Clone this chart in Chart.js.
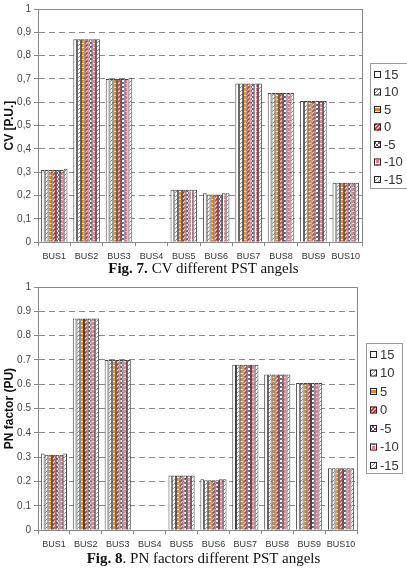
<!DOCTYPE html>
<html>
<head>
<meta charset="utf-8">
<script src="https://cdn.jsdelivr.net/npm/chart.js@4"></script>
<style>
  body { margin: 0; background: #fff; width: 407px; height: 569px; position: relative; overflow: hidden; }
  .box { position: absolute; left: 0; width: 407px; }
  .cap { position: absolute; left: 0; width: 407px; text-align: center; font-family: "Liberation Serif", "Times New Roman", serif; color: #111; white-space: nowrap; }
</style>
</head>
<body>
<div class="box" style="top:0;height:267px"><canvas id="cv"></canvas></div>
<div class="cap" style="top:260px;font-size:15px"><b>Fig. 7.</b> CV different PST angels</div>
<div class="box" style="top:278px;height:277px"><canvas id="pn"></canvas></div>
<div class="cap" style="top:550px;font-size:15px"><b>Fig. 8</b>. PN factors different PST angels</div>
<script>
const buses = ['BUS1', 'BUS2', 'BUS3', 'BUS4', 'BUS5', 'BUS6', 'BUS7', 'BUS8', 'BUS9', 'BUS10']
const angles = ['15', '10', '5', '0', '-5', '-10', '-15']
const yTicks = [0, 0.1, 0.2, 0.3, 0.4, 0.5, 0.6, 0.7, 0.8, 0.9, 1]

// CV per PST angle
const cv15 = [0.31, 0.87, 0.70, 0, 0.225, 0.21, 0.68, 0.64, 0.605, 0.255]
const cv10 = [0.31, 0.87, 0.70, 0, 0.225, 0.205, 0.68, 0.64, 0.605, 0.255]
const cv5 = [0.31, 0.87, 0.70, 0, 0.225, 0.205, 0.68, 0.64, 0.605, 0.255]
const cv0 = [0.31, 0.87, 0.70, 0, 0.225, 0.205, 0.68, 0.64, 0.605, 0.255]
const cvm5 = [0.31, 0.87, 0.70, 0, 0.225, 0.205, 0.68, 0.64, 0.605, 0.255]
const cvm10 = [0.31, 0.87, 0.70, 0, 0.225, 0.21, 0.68, 0.64, 0.605, 0.255]
const cvm15 = [0.315, 0.87, 0.705, 0, 0.225, 0.21, 0.68, 0.64, 0.605, 0.255]

// PN factor per PST angle
const pn15 = [0.315, 0.87, 0.70, 0, 0.225, 0.21, 0.68, 0.64, 0.605, 0.255]
const pn10 = [0.31, 0.87, 0.70, 0, 0.225, 0.205, 0.68, 0.64, 0.605, 0.255]
const pn5 = [0.31, 0.87, 0.70, 0, 0.225, 0.205, 0.68, 0.64, 0.605, 0.255]
const pn0 = [0.31, 0.87, 0.70, 0, 0.225, 0.205, 0.68, 0.64, 0.605, 0.255]
const pnm5 = [0.31, 0.87, 0.70, 0, 0.225, 0.205, 0.68, 0.64, 0.605, 0.255]
const pnm10 = [0.31, 0.87, 0.70, 0, 0.225, 0.21, 0.68, 0.64, 0.605, 0.255]
const pnm15 = [0.315, 0.87, 0.70, 0, 0.225, 0.21, 0.68, 0.64, 0.605, 0.255]

// small hatch tiles, one per angle
function tile(draw) {
  const c = document.createElement('canvas')
  c.width = 4; c.height = 4
  const g = c.getContext('2d')
  g.fillStyle = '#fff'
  g.fillRect(0, 0, 4, 4)
  draw(g)
  return c.getContext('2d').createPattern(c, 'repeat')
}
function diag(color, w) {
  return g => {
    g.strokeStyle = color; g.lineWidth = w
    g.beginPath(); g.moveTo(0, 4); g.lineTo(4, 0); g.moveTo(-1, 1); g.lineTo(1, -1); g.moveTo(3, 5); g.lineTo(5, 3); g.stroke()
  }
}
const fills = [
  '#ffffff',
  tile(diag('#b06aa8', 1)),
  tile(g => { g.fillStyle = '#e8861c'; g.fillRect(0, 0, 4, 3) }),
  tile(diag('#e01818', 1.6)),
  tile(g => { g.fillStyle = '#7a4a78'; g.fillRect(0, 0, 2, 2); g.fillRect(2, 2, 2, 2) }),
  tile(g => { g.fillStyle = '#e8798a'; g.fillRect(0, 0, 3, 3) }),
  tile(diag('#6f8fd0', 1))
]

const frame = {
  id: 'frame',
  afterDraw(chart, args, opts) {
    const { ctx, chartArea: a } = chart
    ctx.save()
    ctx.strokeStyle = '#888'
    ctx.lineWidth = 1
    ctx.strokeRect(Math.round(a.left) + 0.5, Math.round(a.top) + 0.5, Math.round(a.right - a.left), Math.round(a.bottom - a.top))
    // legend box
    const L = opts.legend
    ctx.fillStyle = '#fff'
    ctx.fillRect(L.x, L.y, L.w, L.h)
    ctx.strokeStyle = '#999'
    ctx.strokeRect(L.x + 0.5, L.y + 0.5, L.w, L.h)
    ctx.font = '13px Arial, "Liberation Sans"'
    ctx.textBaseline = 'middle'
    chart.data.datasets.forEach((ds, i) => {
      const y = L.first + i * L.step
      ctx.fillStyle = ds.backgroundColor
      ctx.fillRect(L.x + 4, y - 3, 7, 7)
      ctx.strokeStyle = '#222'
      ctx.strokeRect(L.x + 4.5, y - 2.5, 6, 6)
      ctx.fillStyle = '#333'
      ctx.fillText(ds.label, L.x + 14, y + 1)
    })
    ctx.restore()
  }
}

function makeChart(id, series, title, fmt, rightPad, legend, top) {
  return new Chart(document.getElementById(id), {
    type: 'bar',
    data: {
      labels: buses,
      datasets: series.map((s, i) => ({
        label: angles[i],
        data: s,
        backgroundColor: fills[i],
        borderColor: '#444',
        borderWidth: 1,
        barPercentage: 1,
        categoryPercentage: 0.82
      }))
    },
    options: {
      responsive: true,
      maintainAspectRatio: false,
      animation: false,
      layout: { padding: { top: top, right: rightPad, left: 0, bottom: 0 } },
      plugins: { legend: { display: false }, tooltip: { enabled: false }, frame: { legend: legend } },
      scales: {
        x: {
          grid: { offset: true, drawOnChartArea: false, tickLength: 4, color: '#888' },
          border: { color: '#888' },
          ticks: { font: { family: 'Arial', size: 9 }, color: '#333', padding: 5, maxRotation: 0, autoSkip: false }
        },
        y: {
          min: 0, max: 1,
          afterBuildTicks: s => { s.ticks = yTicks.map(v => ({ value: v })) },
          afterFit: s => { s.width = 38 },
          ticks: { font: { family: 'Arial', size: 10 }, color: '#444', padding: 3, callback: fmt },
          grid: { color: c => (c.tick.value === 0 || c.tick.value === 1) ? 'rgba(0,0,0,0)' : '#8a8a8a', tickColor: '#888', tickLength: 4 },
          border: { color: '#888', dash: [6, 4] },
          title: { display: true, text: title, font: { family: 'Arial', size: 12, weight: 'bold' }, color: '#111', padding: 2 }
        }
      }
    },
    plugins: [frame]
  })
}

const comma = v => (v === 0 || v === 1) ? String(v) : v.toFixed(1).replace('.', ',')
const dot = v => (v === 0 || v === 1) ? String(v) : v.toFixed(1)

makeChart('cv', [cv15, cv10, cv5, cv0, cvm5, cvm10, cvm15], 'CV [P.U.]', comma, 45,
  { x: 370, y: 63, w: 40, h: 125, first: 74, step: 17.5 }, 9)
makeChart('pn', [pn15, pn10, pn5, pn0, pnm5, pnm10, pnm15], 'PN factor (PU)', dot, 50,
  { x: 366, y: 65, w: 36, h: 130, first: 76, step: 18.5 }, 9)
</script>
</body>
</html>
